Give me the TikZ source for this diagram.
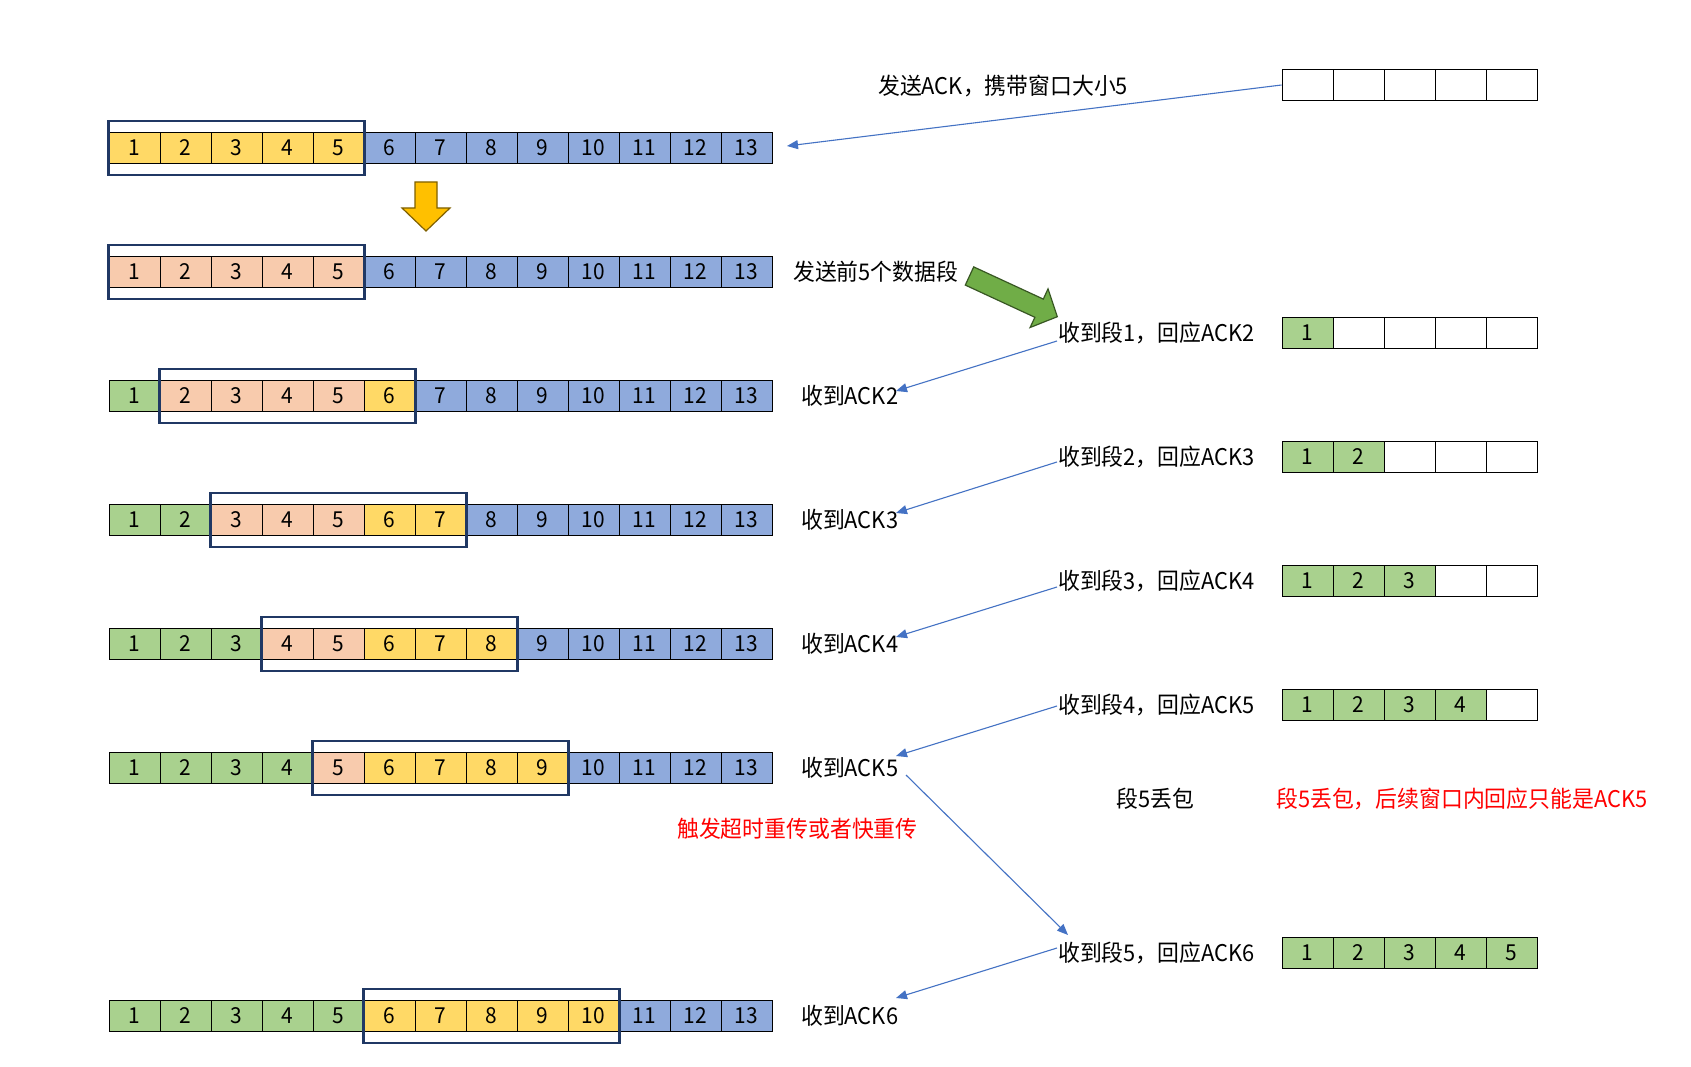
\documentclass[tikz,border=0pt]{standalone}
\usepackage{fontspec}
\setmainfont{Noto Sans CJK SC}[FakeStretch=0.95]
\usetikzlibrary{arrows.meta,fit}
\definecolor{cyel}{HTML}{FFD966}
\definecolor{cblu}{HTML}{8FAADC}
\definecolor{cpnk}{HTML}{F8CBAD}
\definecolor{cgrn}{HTML}{A9D18E}
\definecolor{cnavy}{HTML}{203864}
\definecolor{cline}{HTML}{4472C4}
\definecolor{cyarrow}{HTML}{FFC000}
\definecolor{cyarrowd}{HTML}{7F6000}
\definecolor{cgarrow}{HTML}{70AD47}
\definecolor{cgarrowd}{HTML}{385723}
\newcommand\mycellfont{\fontsize{22}{26}\selectfont}
\newcommand\mylblfont{\fontsize{23}{28}\selectfont}
\begin{document}
\begin{tikzpicture}[x=1pt,y=-1pt,
  cell/.style={draw=black, line width=1pt, minimum width=51pt, minimum height=31pt, inner sep=0pt, font=\mycellfont},
  winbox/.style={draw=cnavy, line width=2.4pt, inner xsep=0pt, inner ysep=11pt},
  lbl/.style={font=\mylblfont, inner sep=0pt, anchor=west},
  redlbl/.style={lbl, text=red},
  ack/.style={draw=cline, line width=1.1pt, -{Triangle[length=11pt,width=9pt]}}]
\useasboundingbox[fill=white] (0,0) rectangle (1691,1067);

% sender rows
\foreach \row/\yy/\g/\p/\yl in {1/148/0/0/5, 2/272/0/5/5, 3/396/1/5/6, 4/520/2/5/7, 5/644/3/5/8, 6/768/4/5/9, 7/1016/5/5/10}{
  \foreach \ci in {1,...,13}{
    \ifnum\ci>\yl\relax \def\cc{cblu}\else\ifnum\ci>\p\relax \def\cc{cyel}\else\ifnum\ci>\g\relax \def\cc{cpnk}\else\def\cc{cgrn}\fi\fi\fi
    \node[cell, fill=\cc] (s\row c\ci) at ({109+51*(\ci-0.5)},\yy) {\ci};
  }
  \pgfmathtruncatemacro\first{\g+1}
  \node[winbox, fit=(s\row c\first)(s\row c\yl)] (box\row) {};
}

% receiver windows
\foreach \k/\yy in {0/85,1/333,2/457,3/581,4/705,5/953}{
  \foreach \jj in {1,...,5}{
    \ifnum\jj>\k\relax \def\cc{white}\def\ctext{}\else\def\cc{cgrn}\def\ctext{\jj}\fi
    \node[cell, fill=\cc] (r\k c\jj) at ({1282+51*(\jj-0.5)},\yy) {\ctext};
  }
}

% labels
\node[lbl] (ack0) at (878,86) {发送ACK，携带窗口大小5};
\node[lbl] (send5) at (793,272) {发送前5个数据段};
\foreach \k/\yy/\kk in {1/333/2,2/457/3,3/581/4,4/705/5,5/953/6}{
  \node[lbl] (rl\k) at (1058,\yy) {收到段\k，回应ACK\kk};
}
\foreach \n/\yy in {2/396,3/520,4/644,5/768,6/1016}{
  \node[lbl] (sl\n) at (801,\yy) {收到ACK\n};
}
\node[redlbl] (retx) at (677,829) {触发超时重传或者快重传};
\node[lbl] (lost) at (1116,799) {段5丢包};
\node[redlbl] (lostnote) at (1276,799) {段5丢包，后续窗口内回应只能是ACK5};

% block arrows
\path[fill=cyarrow, draw=cyarrowd, line width=1.2pt, line join=miter]
  (415,182) -- (437,182) -- (437,208) -- (450,208) -- (426,231) -- (402,208) -- (415,208) -- cycle;
\path[fill=cgarrow, draw=cgarrowd, line width=1.2pt, line join=miter]
  (973.7,266.9) -- (1043.3,299.1) -- (1048.0,288.9) -- (1057.3,316.7) -- (1030.1,327.5) -- (1034.9,317.3) -- (965.3,285.1) -- cycle;

% ack connectors
\coordinate (a0e) at (787,146);
\draw[ack] (r0c1.west) -- (a0e);
\foreach \k/\sy/\ey in {1/341/391, 2/462/513, 3/587/637, 4/706/756, 5/948/998}{
  \coordinate (ls\k) at (1057,\sy);
  \coordinate (le\k) at (896,\ey);
  \draw[ack] (ls\k) -- (le\k);
}
\coordinate (rs) at (906,775);
\coordinate (re) at (1068,935);
\draw[ack] (rs) -- (re);
\end{tikzpicture}
\end{document}
